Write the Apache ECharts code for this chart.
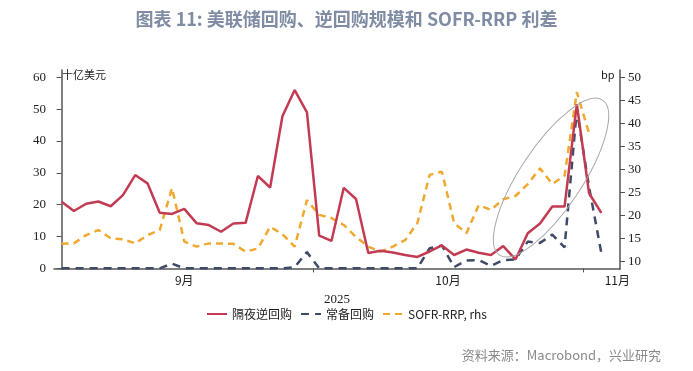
<!DOCTYPE html>
<html>
<head>
<meta charset="utf-8">
<script src="https://cdn.jsdelivr.net/npm/echarts@6/dist/echarts.min.js"></script>
<style>
html,body{margin:0;padding:0;background:#fff;}
#c{width:693px;height:371px;}
</style>
</head>
<body>
<div id="c"></div>
<script>
// Business days (2025)
var dates = [
 '09-02','09-03','09-04','09-05','09-08','09-09','09-10','09-11','09-12','09-15','09-16','09-17','09-18','09-19',
 '09-22','09-23','09-24','09-25','09-26','09-29','09-30',
 '10-01','10-02','10-03','10-06','10-07','10-08','10-09','10-10','10-14','10-15','10-16','10-17',
 '10-20','10-21','10-22','10-23','10-24','10-27','10-28','10-29','10-30','10-31',
 '11-03','11-04'
];
// 隔夜逆回购 (十亿美元)
var onrrp = [20.9,18.0,20.3,21.0,19.5,23.0,29.3,26.7,17.5,17.1,18.7,14.2,13.6,11.5,14.1,14.3,29.0,25.4,47.8,56.0,49.0,
 10.3,8.6,25.3,21.8,4.8,5.5,5.0,4.2,3.6,5.3,7.2,4.2,5.9,4.9,4.2,7.0,2.8,11.0,14.1,19.4,19.4,51.6,23.6,17.4];
// 常备回购 (十亿美元)
var srf = [0,0,0,0,0,0,0,0,0,1.5,0,0,0,0,0,0,0,0,0,0.4,5.1,
 0,0,0,0,0,0,0,0,0,6.3,7.2,0.4,2.5,2.6,0.8,2.6,2.8,8.4,8.0,10.6,6.6,49.8,25.5,4.8];
// SOFR-RRP (bp, rhs)
var spread = [13.8,13.9,15.7,16.8,15.0,14.8,13.9,15.7,16.8,25.9,14.3,13.2,13.9,13.9,13.8,12.1,12.8,17.5,15.9,13.2,23.3,
 20.1,19.4,17.9,15.3,13.2,12.1,13.2,14.6,18.3,28.8,29.5,18.3,16.1,22.2,21.2,23.5,24.2,26.8,30.2,26.8,28.6,46.8,37.8,null];
var leftTicks = [0,10,20,30,40,50,60];
var rightTicks = [10,15,20,25,30,35,40,45,50];
var monthBounds = [20.5, 42.5];
var monthLabelPos = [10, 31.5, 45.3];
var monthNames = ['9月','10月','11月'];

function pairs(arr){ return arr.map(function(v,i){ return [i, v]; }); }

var chart = echarts.init(document.getElementById('c'));
var axisColor = '#555';
var serif = 'Liberation Serif';
var cjk = 'Noto Sans CJK SC';
chart.setOption({
  animation: false,
  title: {
    text: '图表 11: 美联储回购、逆回购规模和 SOFR-RRP 利差',
    left: 'center', top: 5,
    textStyle: {color: '#7f8ca3', fontSize: 18, fontWeight: 'bold', fontFamily: cjk}
  },
  grid: {left: 54, right: 73, top: 70, bottom: 102},
  legend: {
    top: 303, left: 'center',
    itemWidth: 20, itemHeight: 8, itemGap: 8,
    itemStyle: {opacity: 0},
    textStyle: {fontSize: 12, color: '#222', fontFamily: cjk},
    data: ['隔夜逆回购','常备回购','SOFR-RRP, rhs']
  },
  xAxis: {
    type: 'value', min: -0.62, max: 45.52,
    name: '2025', nameLocation: 'middle', nameGap: 24,
    nameTextStyle: {fontFamily: serif, fontSize: 13, color: '#222'},
    splitLine: {show: false},
    axisLine: {show: true, lineStyle: {color: axisColor, width: 1.5}},
    axisTick: {show: true, length: 4, lineStyle: {color: axisColor}, customValues: monthBounds},
    axisLabel: {
      customValues: monthLabelPos, margin: 5,
      fontFamily: cjk, fontSize: 12, color: '#222',
      formatter: function(v){ return v < monthBounds[0] ? monthNames[0] : (v < monthBounds[1] ? monthNames[1] : monthNames[2]); }
    }
  },
  yAxis: [{
    type: 'value', min: -0.2, max: 62.3, position: 'left',
    splitLine: {show: false},
    axisLine: {show: true, lineStyle: {color: axisColor, width: 1.5}},
    axisTick: {show: true, length: 5, lineStyle: {color: axisColor}, customValues: leftTicks},
    axisLabel: {customValues: leftTicks, margin: 8, fontFamily: serif, fontSize: 13, color: '#222'}
  },{
    type: 'value', min: 8.33, max: 51.59, position: 'right',
    splitLine: {show: false},
    axisLine: {show: true, lineStyle: {color: axisColor, width: 1.5}},
    axisTick: {show: true, length: 5, lineStyle: {color: axisColor}, customValues: rightTicks},
    axisLabel: {customValues: rightTicks, margin: 8, fontFamily: serif, fontSize: 13, color: '#222'}
  }],
  series: [{
    name: '隔夜逆回购', type: 'line', yAxisIndex: 0, data: pairs(onrrp),
    symbol: 'none', z: 3,
    lineStyle: {color: '#c23b52', width: 2.5},
    itemStyle: {color: '#c23b52'}
  },{
    name: '常备回购', type: 'line', yAxisIndex: 0, data: pairs(srf),
    symbol: 'none', z: 2,
    lineStyle: {color: '#3e4a68', width: 2.5, type: [8, 6]},
    itemStyle: {color: '#3e4a68'}
  },{
    name: 'SOFR-RRP, rhs', type: 'line', yAxisIndex: 1, data: pairs(spread),
    symbol: 'none', z: 1, connectNulls: false,
    lineStyle: {color: '#f0a830', width: 2.5, type: [7, 5]},
    itemStyle: {color: '#f0a830'}
  }]
});

var c = chart.convertToPixel({xAxisIndex: 0, yAxisIndex: 0}, [39.9, 28.5]);
chart.setOption({
  graphic: [
    {type: 'text', left: 62, top: 69, style: {text: '十亿美元', fontSize: 11, fontFamily: cjk, fill: '#222'}},
    {type: 'text', left: 601, top: 69, style: {text: 'bp', fontSize: 11, fontFamily: cjk, fill: '#222'}},
    {type: 'text', right: 32, top: 349, style: {text: '资料来源：Macrobond，兴业研究', fontSize: 13, fontFamily: cjk, fill: '#8a8a8a'}},
    {type: 'ellipse', x: c[0], y: c[1], rotation: 56.4 * Math.PI / 180,
     shape: {cx: 0, cy: 0, rx: 93, ry: 31}, style: {fill: 'none', stroke: '#a8a8a8', lineWidth: 1}, z: 10}
  ]
});
</script>
</body>
</html>
